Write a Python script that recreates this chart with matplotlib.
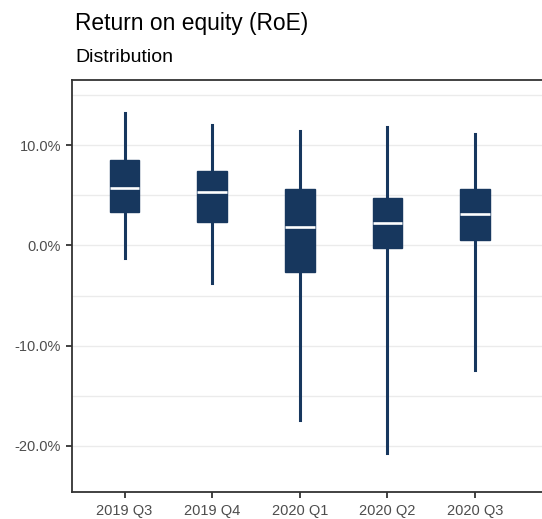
import numpy as np
import matplotlib
matplotlib.use("Agg")
import matplotlib.pyplot as plt
from matplotlib.ticker import FuncFormatter, MultipleLocator

plt.rcParams['font.family'] = ['Liberation Sans', 'DejaVu Sans']

quarters = ["2019 Q3", "2019 Q4", "2020 Q1", "2020 Q2", "2020 Q3"]
whis_hi = [13.2, 12.0, 11.4, 11.8, 11.1]
q3 = [8.5, 7.4, 5.65, 4.75, 5.65]
median = [5.7, 5.3, 1.8, 2.2, 3.1]
q1 = [3.3, 2.3, -2.7, -0.3, 0.5]
whis_lo = [-1.3, -3.8, -17.4, -20.7, -12.4]

navy = "#17375E"

stats = []
for i, lab in enumerate(quarters):
    stats.append(dict(label=lab, med=median[i], q1=q1[i], q3=q3[i],
                      whislo=whis_lo[i], whishi=whis_hi[i], fliers=[]))

fig = plt.figure(figsize=(5.42, 5.19), dpi=100)
ax = fig.add_axes([72/542, 27/519, (549.6-72)/542, (492-80)/519])

ax.bxp(stats, positions=np.arange(len(quarters)), widths=0.34,
       patch_artist=True, showcaps=False, showfliers=False,
       boxprops=dict(facecolor=navy, edgecolor=navy, linewidth=1),
       whiskerprops=dict(color=navy, linewidth=2.2),
       medianprops=dict(color="white", linewidth=1.9, solid_capstyle="butt"))

ax.set_xlim(-0.6, 4.85)
ax.set_ylim(-24.6, 16.5)
ax.yaxis.set_major_locator(MultipleLocator(10))
ax.yaxis.set_minor_locator(MultipleLocator(5))
ax.yaxis.set_major_formatter(FuncFormatter(lambda v, p: "%.1f%%" % v))
ax.grid(axis="y", which="both", color="#EBEBEB", linewidth=1)
ax.set_axisbelow(True)

for s in ax.spines.values():
    s.set_color("#333333")
    s.set_linewidth(1.3)

ax.tick_params(axis="both", which="major", length=4, width=1.3, color="#333333",
               labelsize=10.5, labelcolor="#4D4D4D")
ax.tick_params(axis="y", which="minor", length=0)
ax.tick_params(axis="y", pad=4)
ax.tick_params(axis="x", pad=5)
ax.set_xticks(np.arange(len(quarters)))
ax.set_xticklabels(quarters)

fig.text(75/542, (519-30)/519, "Return on equity (RoE)", fontsize=16.4,
         va="baseline", ha="left", color="black")
fig.text(75/542, (519-62.5)/519, "Distribution", fontsize=14,
         va="baseline", ha="left", color="black")

fig.savefig("out.png", dpi=100)
